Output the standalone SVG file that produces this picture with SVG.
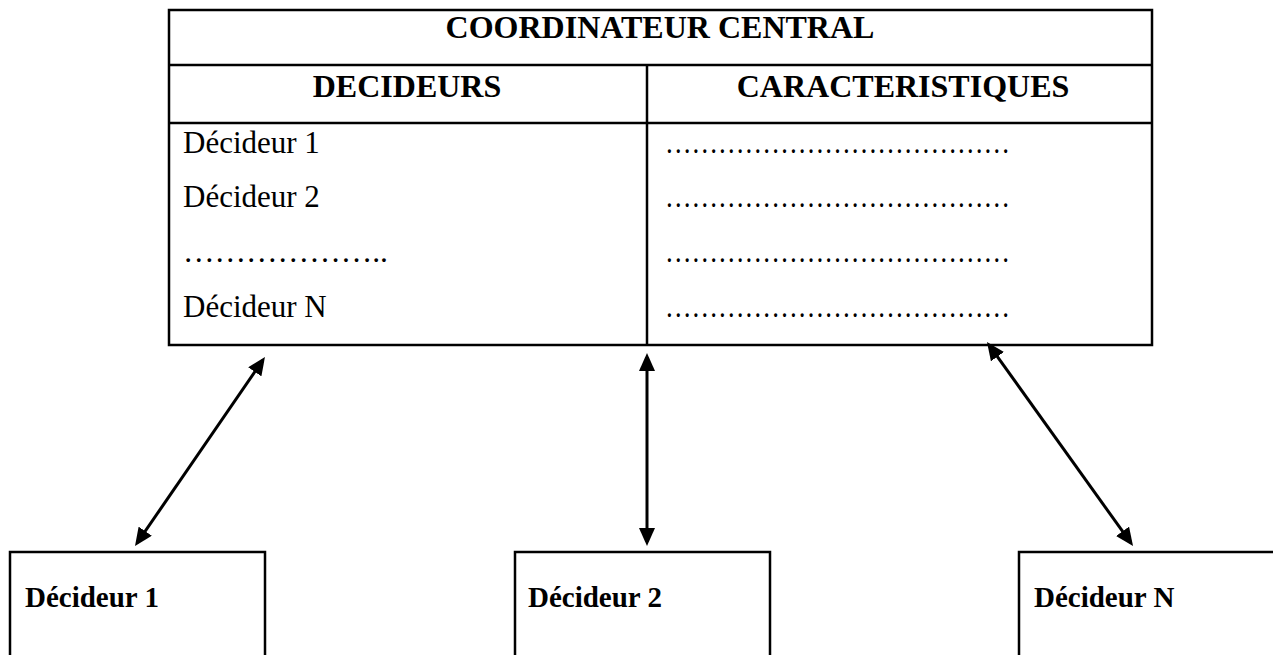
<svg xmlns="http://www.w3.org/2000/svg" width="1273" height="655" viewBox="0 0 1273 655">
<style>
.frame{fill:none;stroke:#000;stroke-width:2.5}
.ln{stroke:#000;stroke-width:2.5}
.conn{stroke:#000;stroke-width:3;fill:none;marker-start:url(#ah);marker-end:url(#ah)}
text{font-family:"Liberation Serif","Times New Roman",serif;fill:#000}
.hb{font-size:32px;font-weight:bold}
.body{font-size:31px}
.lb{font-size:29px;font-weight:bold}
</style>
<defs>
<marker id="ah" markerUnits="userSpaceOnUse" markerWidth="20" markerHeight="16" refX="14" refY="8" orient="auto-start-reverse">
<path d="M0,0 L18,8 L0,16 z" fill="#000"/>
</marker>
</defs>
<rect width="1273" height="655" fill="#fff"/>
<g id="coordinateur">
<rect class="frame" x="169" y="10" width="983" height="335"/>
<line class="ln" x1="169" y1="65" x2="1152" y2="65"/>
<line class="ln" x1="169" y1="123" x2="1152" y2="123"/>
<line class="ln" x1="647" y1="65" x2="647" y2="345"/>
<text class="hb" x="660" y="38" text-anchor="middle">COORDINATEUR CENTRAL</text>
<text class="hb" x="407" y="97" text-anchor="middle">DECIDEURS</text>
<text class="hb" x="903" y="97" text-anchor="middle">CARACTERISTIQUES</text>
<text class="body" x="183" y="153">Décideur 1</text>
<text class="body" x="183" y="207">Décideur 2</text>
<text class="body" x="183" y="262" textLength="205" lengthAdjust="spacingAndGlyphs">………………..</text>
<text class="body" x="183" y="317">Décideur N</text>
<text class="body" x="665" y="153" textLength="345" lengthAdjust="spacingAndGlyphs">…………………………………</text>
<text class="body" x="665" y="207" textLength="345" lengthAdjust="spacingAndGlyphs">…………………………………</text>
<text class="body" x="665" y="262" textLength="345" lengthAdjust="spacingAndGlyphs">…………………………………</text>
<text class="body" x="665" y="317" textLength="345" lengthAdjust="spacingAndGlyphs">…………………………………</text>
</g>
<g id="decideur1">
<rect class="frame" x="10" y="552" width="255" height="120"/>
<text class="lb" x="25" y="607">Décideur 1</text>
</g>
<g id="decideur2">
<rect class="frame" x="515" y="552" width="255" height="120"/>
<text class="lb" x="528" y="607">Décideur 2</text>
</g>
<g id="decideurN">
<rect class="frame" x="1019" y="552" width="270" height="120"/>
<text class="lb" x="1034" y="607">Décideur N</text>
</g>
<g id="connectors">
<line class="conn" x1="262.7" y1="360.3" x2="137.3" y2="542.7"/>
<line class="conn" x1="647" y1="357" x2="647" y2="542"/>
<line class="conn" x1="989.3" y1="345.3" x2="1130.7" y2="542.7"/>
</g>
</svg>
